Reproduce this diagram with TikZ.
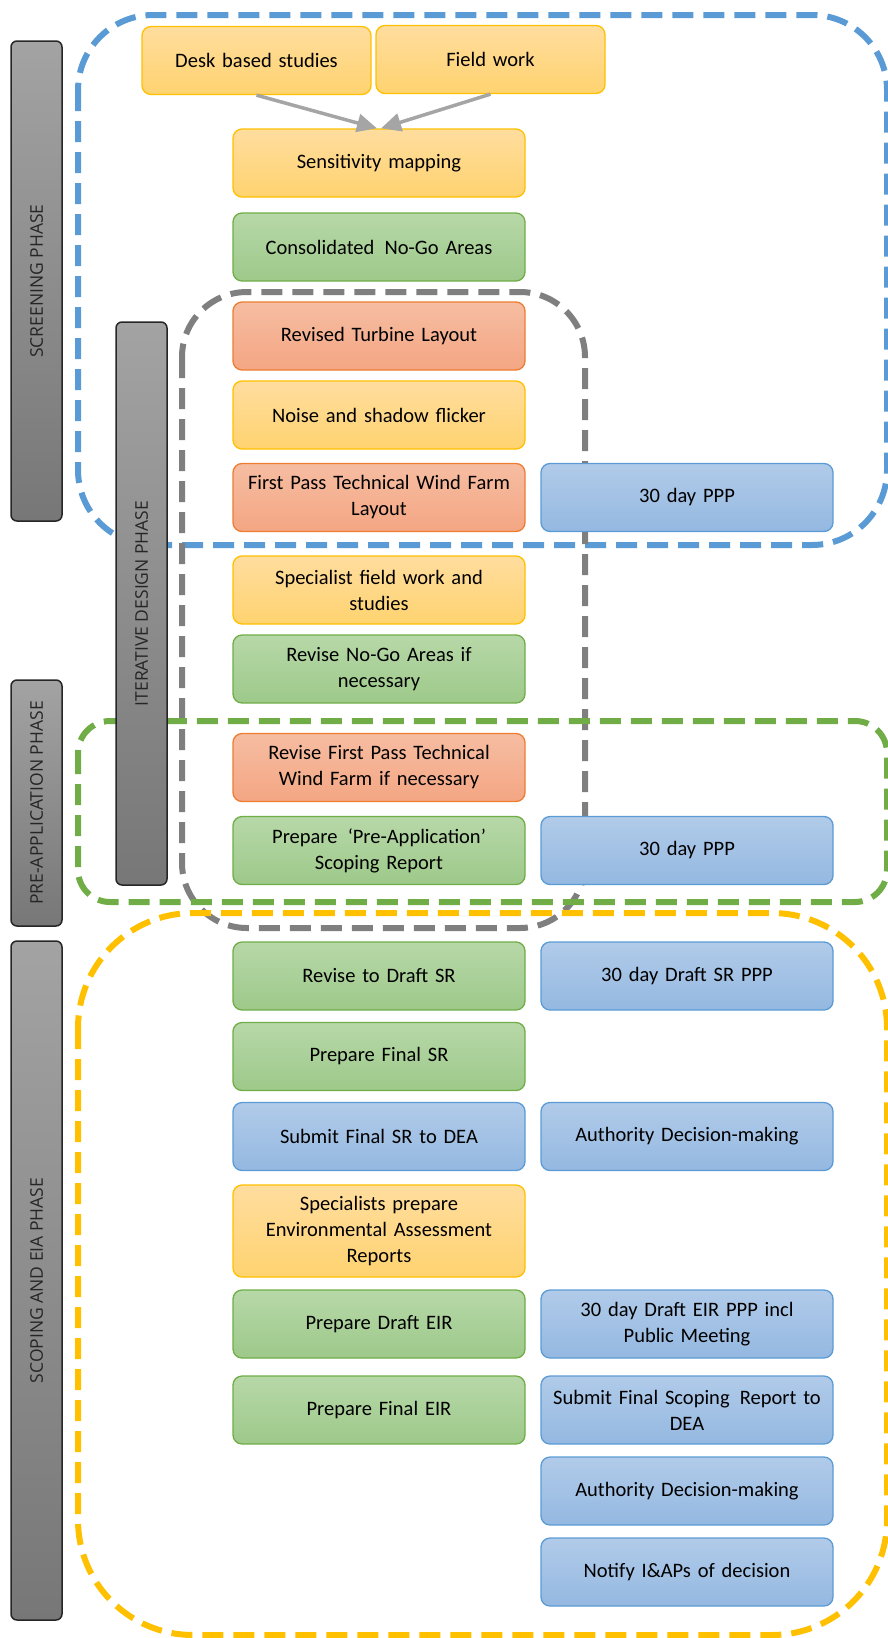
\documentclass[tikz,border=0pt]{standalone}
\usepackage{fontspec}
\setmainfont{Carlito}
\newfontfamily\phasefont{Open Sans}
\usetikzlibrary{arrows.meta}

\definecolor{ylwline}{HTML}{FFC000}
\definecolor{ylwtop}{HTML}{FFDD9E}
\definecolor{ylwbot}{HTML}{FFD370}
\definecolor{grnline}{HTML}{70AD47}
\definecolor{grntop}{HTML}{B7D8A8}
\definecolor{grnbot}{HTML}{9DC98A}
\definecolor{redline}{HTML}{ED7D31}
\definecolor{redtop}{HTML}{F6BDA2}
\definecolor{redbot}{HTML}{F4A683}
\definecolor{bluline}{HTML}{5B9BD5}
\definecolor{blutop}{HTML}{B1CBE9}
\definecolor{blubot}{HTML}{94B8E1}
\definecolor{bartop}{HTML}{A3A3A3}
\definecolor{barbot}{HTML}{777777}
\definecolor{frmgray}{HTML}{7F7F7F}
\definecolor{arrgray}{HTML}{A5A5A5}

\tikzset{
  stage/.style={draw, line width=1.3pt, rounded corners=9pt, minimum width=292pt,
    minimum height=68pt, text width=282pt, align=center, inner sep=0pt,
    font=\fontsize{20.5}{26}\selectfont},
  ylwbox/.style={stage, draw=ylwline, top color=ylwtop, bottom color=ylwbot},
  grnbox/.style={stage, draw=grnline, top color=grntop, bottom color=grnbot},
  redbox/.style={stage, draw=redline, top color=redtop, bottom color=redbot},
  blubox/.style={stage, draw=bluline, top color=blutop, bottom color=blubot},
  phasebar/.style={draw=black!85, line width=1.5pt, rounded corners=6pt,
    top color=bartop, bottom color=barbot},
  phaselabel/.style={rotate=90, text=black!85, font=\phasefont\fontsize{17.5}{20}\selectfont},
  frame/.style={line width=6pt, dash pattern=on 21pt off 10pt},
  flow/.style={-{Triangle[length=20pt,width=18pt]}, line width=3.5pt, draw=arrgray},
}

\begin{document}
\begin{tikzpicture}[x=1pt, y=-1pt]
\useasboundingbox (0,0) rectangle (888,1638);

% dashed phase frames
\draw[frame, draw=bluline, rounded corners=75pt] (78,15) rectangle (887,545);
\draw[frame, draw=frmgray, rounded corners=65pt] (182,292) rectangle (585,928);
\draw[frame, draw=grnline, rounded corners=32pt] (78,721) rectangle (887,902);
\draw[frame, draw=ylwline, rounded corners=115pt] (78,913) rectangle (887,1635);

% phase bars
\draw[phasebar] (11,41) rectangle (62,521);
\node[phaselabel] (screening) at (36.5,281) {SCREENING PHASE};
\draw[phasebar] (116,322) rectangle (167,885);
\node[phaselabel] (iterative) at (141.5,603.5) {ITERATIVE DESIGN PHASE};
\draw[phasebar] (11,680) rectangle (62,926);
\node[phaselabel] (preapp) at (36.5,803) {PRE-APPLICATION PHASE};
\draw[phasebar] (11,941) rectangle (62,1620);
\node[phaselabel] (scoping) at (36.5,1280.5) {SCOPING AND EIA PHASE};

% screening
\node[ylwbox, minimum width=229pt, text width=220pt] (desk) at (256.5,60.5) {Desk based studies};
\node[ylwbox, minimum width=229pt, text width=220pt] (field) at (490.5,59.5) {Field work};
\node[ylwbox] (sense) at (379,163) {Sensitivity mapping};
\node[grnbox] (nogo) at (379,247) {Consolidated\enspace No-Go Areas};
\draw[flow] (desk.south) -- ([xshift=-2pt]sense.north);
\draw[flow] (field.south) -- ([xshift=2pt]sense.north);

% iterative design
\node[redbox] (turbine) at (379,336) {Revised Turbine Layout};
\node[ylwbox] (noise) at (379,415) {Noise and shadow flicker};
\node[redbox] (firstpass) at (379,497.5) {First Pass Technical Wind Farm\\Layout};
\node[blubox] (pppa) at (687,497.5) {30 day PPP};
\node[ylwbox] (specfield) at (379,590) {Specialist field work and\\studies};
\node[grnbox] (revnogo) at (379,669) {Revise No-Go Areas if\\necessary};

% pre-application
\node[redbox] (revfirst) at (379,767.5) {Revise First Pass Technical\\Wind Farm if necessary};
\node[grnbox] (prepre) at (379,850.5) {Prepare\enspace‘Pre-Application’\\Scoping Report};
\node[blubox] (pppb) at (687,850.5) {30 day PPP};

% scoping and EIA
\node[grnbox] (draftsr) at (379,976) {Revise to Draft SR};
\node[blubox] (pppsr) at (687,976) {30 day Draft SR PPP};
\node[grnbox] (finalsr) at (379,1056.5) {Prepare Final SR};
\node[blubox] (submitsr) at (379,1136.5) {Submit Final SR to DEA};
\node[blubox] (decisiona) at (687,1136.5) {Authority Decision-making};
\node[ylwbox, minimum height=92pt] (specrep) at (379,1231) {Specialists prepare\\Environmental Assessment\\Reports};
\node[grnbox] (drafteir) at (379,1324) {Prepare Draft EIR};
\node[blubox] (ppeir) at (687,1324) {30 day Draft EIR PPP incl\\Public Meeting};
\node[grnbox] (finaleir) at (379,1410) {Prepare Final EIR};
\node[blubox] (submitsc) at (687,1410) {Submit Final Scoping\enspace Report to\\DEA};
\node[blubox] (decisionb) at (687,1491) {Authority Decision-making};
\node[blubox] (notify) at (687,1572) {Notify I\&APs of decision};
\end{tikzpicture}
\end{document}
